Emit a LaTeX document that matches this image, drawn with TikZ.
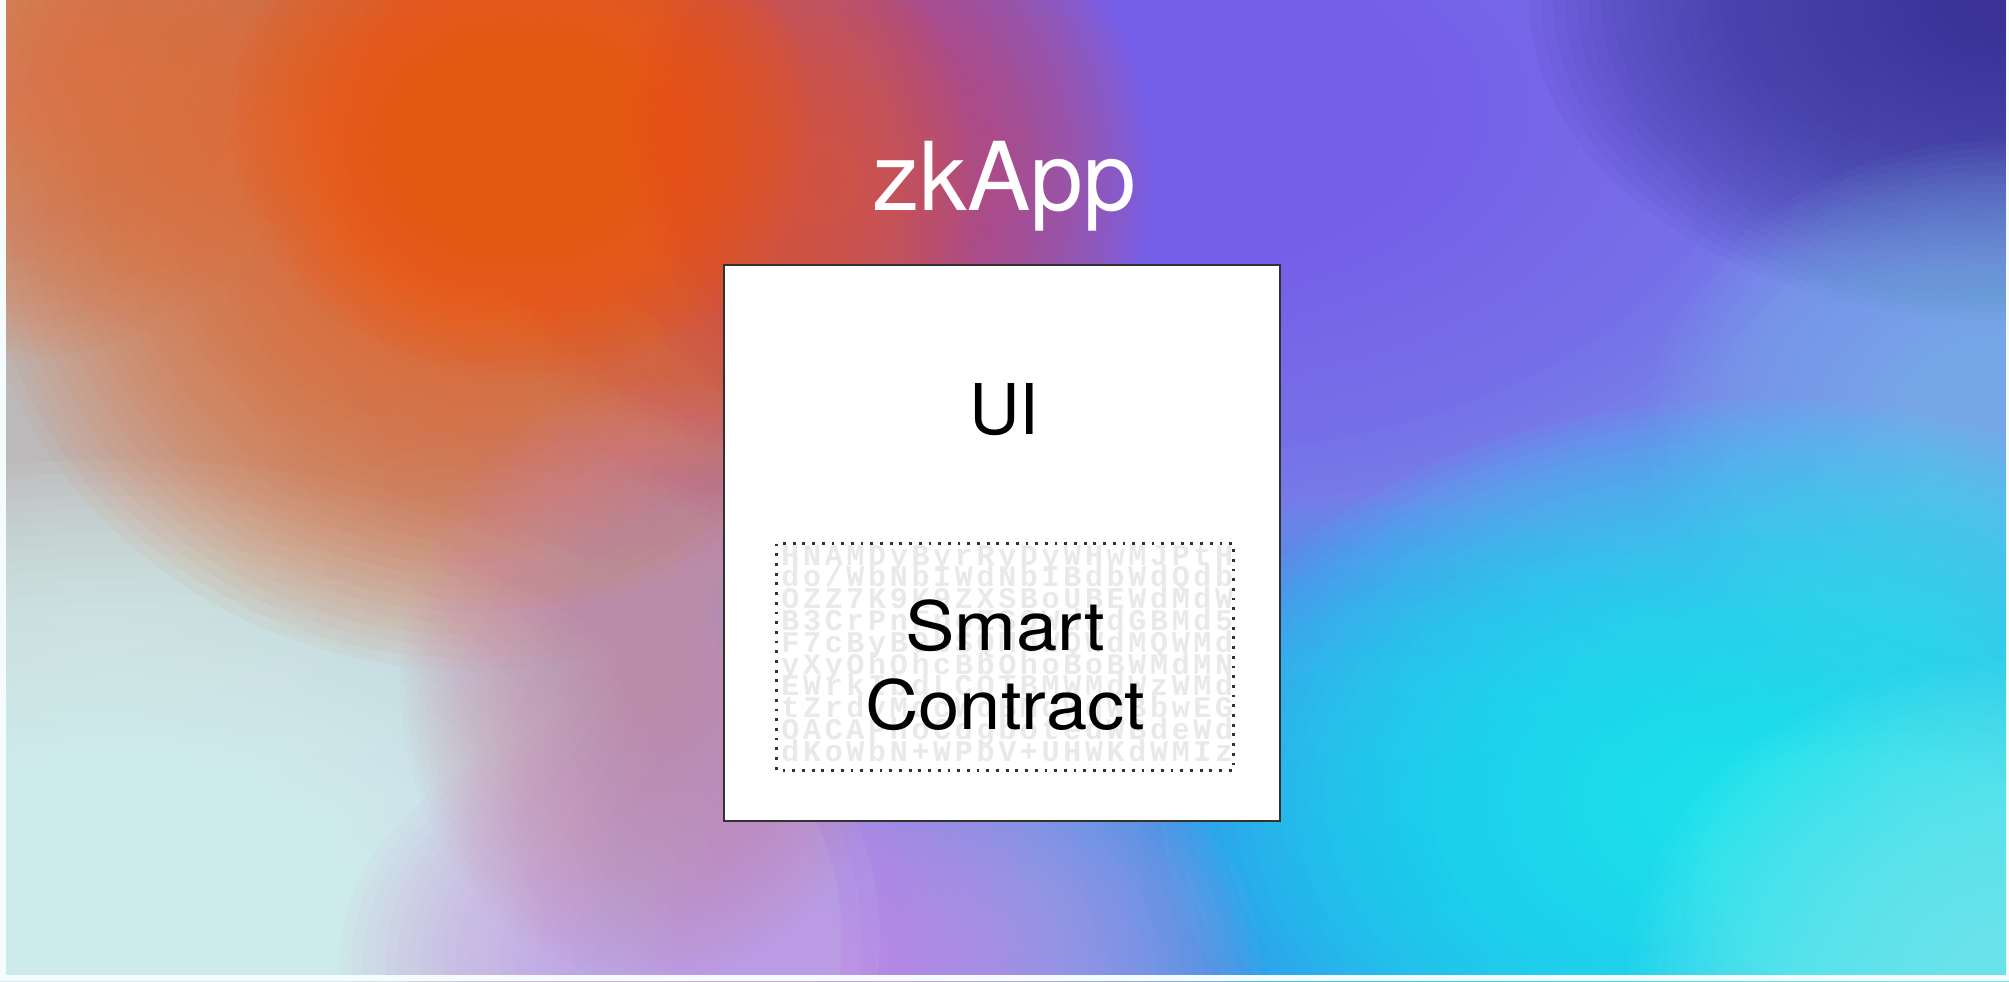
\documentclass[tikz,border=0pt]{standalone}
\usepackage{fontspec}
\setmainfont{TeX Gyre Heros}
\newfontfamily\glyphfont[LetterSpace=12.3]{Liberation Mono}

\definecolor{bgBase}{RGB}{118,128,232}
\definecolor{bgLeft}{RGB}{203,200,186}
\definecolor{bgMint}{RGB}{216,246,245}
\definecolor{bgPeach}{RGB}{228,125,75}
\definecolor{bgOrange}{RGB}{236,100,35}
\definecolor{bgOrangeCore}{RGB}{244,88,16}
\definecolor{bgRed}{RGB}{205,75,100}
\definecolor{bgPurple}{RGB}{135,95,245}
\definecolor{bgNavy}{RGB}{58,50,150}
\definecolor{bgSky}{RGB}{125,185,235}
\definecolor{bgBlue}{RGB}{45,165,240}
\definecolor{bgCyan}{RGB}{28,238,250}
\definecolor{bgAqua}{RGB}{125,245,250}
\definecolor{bgViolet}{RGB}{205,155,228}
\definecolor{bgPink}{RGB}{210,140,170}
\definecolor{frameGray}{RGB}{50,50,50}
\definecolor{glyphGray}{RGB}{233,233,233}

% a soft colour blob: 40 stacked translucent ellipses of growing size
% #1 colour, #2/#3 centre, #4/#5 radii, #6 strength
\newcommand\softblob[6]{%
  \pgfmathsetmacro\blobalpha{1-(1-#6)^0.7}%
  \foreach \k in {1,...,40}{%
    \fill[#1, opacity=\blobalpha] (#2,#3) ellipse [x radius={#4/40*\k}, y radius={#5/40*\k}];}}

\tikzset{
  appbox/.style={draw=frameGray, line width=1pt, fill=white},
  contractbox/.style={draw=frameGray, line width=1.4pt, dash pattern=on 1.4pt off 3.45pt},
  glyphrow/.style={anchor=base west, inner sep=0pt, text=glyphGray,
    font=\glyphfont\bfseries\fontsize{15}{15}\selectfont},
}

\begin{document}
\begin{tikzpicture}[x=0.5pt, y=-0.5pt]
\useasboundingbox (0,0) rectangle (2009,981);

% backdrop: soft colour field
\begin{scope}
  \clip (0,0) rectangle (2009,981);
  \fill[bgBase] (0,0) rectangle (2009,981);
  \softblob{bgLeft}{80}{480}{760}{640}{0.09}
  \softblob{bgMint}{120}{940}{760}{480}{0.12}
  \softblob{bgPurple}{1150}{110}{720}{420}{0.08}
  \softblob{bgNavy}{2009}{0}{480}{320}{0.085}
  \softblob{bgSky}{2009}{430}{360}{290}{0.07}
  \softblob{bgPeach}{0}{0}{360}{360}{0.08}
  \softblob{bgRed}{820}{180}{330}{360}{0.08}
  \softblob{bgOrange}{470}{200}{500}{470}{0.08}
  \softblob{bgOrangeCore}{520}{120}{290}{260}{0.085}
  \softblob{bgBlue}{1350}{880}{560}{380}{0.08}
  \softblob{bgCyan}{1760}{800}{600}{400}{0.09}
  \softblob{bgAqua}{2009}{981}{380}{320}{0.07}
  \softblob{bgViolet}{800}{960}{460}{280}{0.08}
  \softblob{bgPink}{650}{680}{250}{300}{0.06}
  % pale margin along the left, right and bottom edges
  \fill[white!96!cyan] (0,0) rectangle (6,981);
  \fill[white!96!cyan] (2006,0) rectangle (2009,981);
  \fill[white!96!cyan] (0,975) rectangle (2009,981);
\end{scope}

% title
\node[text=white, inner sep=0pt, anchor=base,
      font=\fontsize{47.5}{47.5}\selectfont] (title) at (1004,210) {zkApp};

% application frame
\node[appbox, inner sep=0pt, minimum width=278pt, minimum height=278pt] (app) at (1002,543) {};

\node[inner sep=0pt, anchor=base, font=\fontsize{35}{35}\selectfont] (ui) at (1004,434) {UI};

% smart contract area with its glyph texture
\node[inner sep=0pt, minimum width=228pt, minimum height=113pt] (scframe) at (1005,657) {};
\foreach \row [count=\i from 0] in {HNAMDyByrRyDyWHwMJPtH, do/WbNbIWdNbIBdbWdQdb,
  OZZ7K9K9ZXSBoUBEWdMdW, B3CrPnFnoZSQWdWdGBMd5, F7cByB9bSQMpWQWdMQWMd,
  yXyOhOhcBbOhoBoBWMdMN, EWrkIbdLCQTBMWMdWzWMd, tZrdvMdcWdBMdWdWBbwEG,
  OACAPhoCdgbotedWBdeWd, dKoWbN+WPbV+UHWKdWMIz}
  \node[glyphrow] (g\i) at (781,{565+21.8*\i}) {\row};
\draw[contractbox] (scframe.north west) rectangle (scframe.south east);

\node[inner sep=0pt, align=center, xscale=1.09,
      font=\fontsize{34}{39.5}\selectfont] (sc) at (1005,665) {Smart\\Contract};
\end{tikzpicture}
\end{document}
